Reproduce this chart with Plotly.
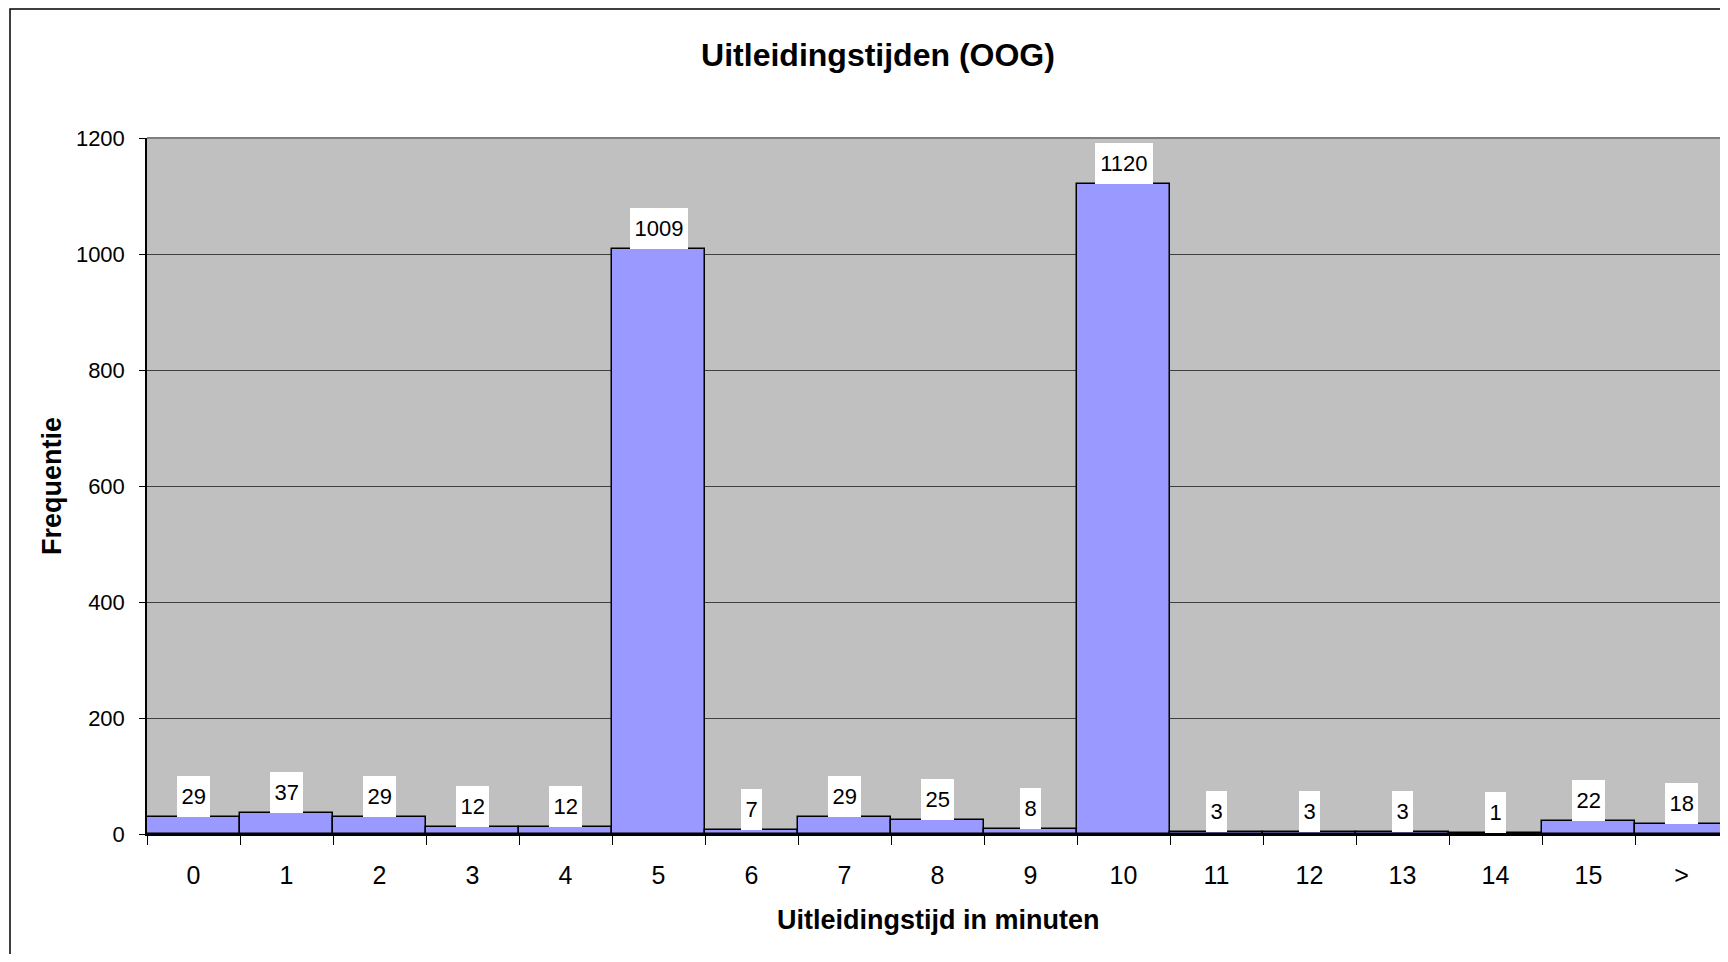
import plotly.graph_objects as go

categories = ["0", "1", "2", "3", "4", "5", "6", "7", "8", "9", "10", "11", "12", "13", "14", "15", ">"]
frequencies = [29, 37, 29, 12, 12, 1009, 7, 29, 25, 8, 1120, 3, 3, 3, 1, 22, 18]
y_ticks = [0, 200, 400, 600, 800, 1000, 1200]

title_text = "Uitleidingstijden (OOG)"
x_title = "Uitleidingstijd in minuten"
y_title = "Frequentie"

FONT = "Liberation Sans, Arial, Helvetica, sans-serif"
OFF = 8  # default page body margin
W, H = 1720, 946
L, R, T, B = 139, 0, 130, 120
PW = W - L - R
PH = H - T - B
ZERO_Y = OFF + T + PH


def px_to_paper_x(px):
    return (px - OFF - L) / PW


def px_to_paper_y(py):
    return (ZERO_Y - py) / PH


fig = go.Figure()
fig.add_trace(go.Bar(
    x=categories, y=frequencies,
    marker=dict(color="#9999FF", line=dict(color="black", width=1.5)),
    hoverinfo="x+y",
))

annotations = []
for c, v in zip(categories, frequencies):
    s = str(v)
    annotations.append(dict(
        x=c, y=v, xref="x", yref="y", text=s, showarrow=False,
        yanchor="bottom", xanchor="center",
        bgcolor="white", borderpad=0, borderwidth=0,
        width=12.2 * len(s) + 9, height=41,
        font=dict(family=FONT, size=22, color="black"),
    ))

annotations.append(dict(
    x=px_to_paper_x(938), y=px_to_paper_y(920), xref="paper", yref="paper", text=f"<b>{x_title}</b>",
    showarrow=False, xanchor="center", yanchor="middle",
    font=dict(family=FONT, size=27, color="black"),
))
annotations.append(dict(
    x=px_to_paper_x(52), y=0.5, xref="paper", yref="paper", text=f"<b>{y_title}</b>",
    showarrow=False, xanchor="center", yanchor="middle", textangle=-90,
    font=dict(family=FONT, size=27, color="black"),
))

shapes = [
    # outer chart border (cropped on right and bottom)
    dict(type="rect", xref="paper", yref="paper",
         x0=px_to_paper_x(10), x1=1.05, y0=px_to_paper_y(9), y1=-0.5,
         line=dict(color="black", width=1.5), fillcolor="rgba(0,0,0,0)", layer="above"),
    # plot area top and right border
    dict(type="line", xref="paper", yref="paper", x0=0, x1=1, y0=1, y1=1,
         line=dict(color="#808080", width=2)),
    dict(type="line", xref="paper", yref="paper", x0=0.9994, x1=0.9994, y0=0, y1=1,
         line=dict(color="#808080", width=2)),
]

fig.update_layout(
    width=W, height=H,
    margin=dict(l=L, r=R, t=T, b=B, autoexpand=False),
    paper_bgcolor="white", plot_bgcolor="#C0C0C0",
    bargap=0, showlegend=False,
    font=dict(family=FONT, color="black"),
    title=dict(text=f"<b>{title_text}</b>", x=(878 - OFF) / W, xanchor="center",
               y=1 - (55 - OFF) / H, yanchor="middle", xref="container", yref="container",
               font=dict(family=FONT, size=32, color="black")),
    xaxis=dict(type="category", range=[-0.5, 16.5], showgrid=False,
               showline=True, linecolor="black", linewidth=1.5,
               ticks="outside", tickson="boundaries", ticklen=9, tickcolor="black", tickwidth=1,
               ticklabelstandoff=18,
               tickfont=dict(family=FONT, size=25, color="black"), fixedrange=True),
    yaxis=dict(range=[0, 1200], tickvals=y_ticks, showgrid=True, gridcolor="#404040", gridwidth=1,
               zeroline=False, showline=True, linecolor="black", linewidth=1.5,
               ticks="outside", ticklen=6, tickcolor="black",
               ticklabelstandoff=10,
               tickfont=dict(family=FONT, size=22, color="black"), fixedrange=True),
    annotations=annotations, shapes=shapes,
)

fig.write_html("out.html")
